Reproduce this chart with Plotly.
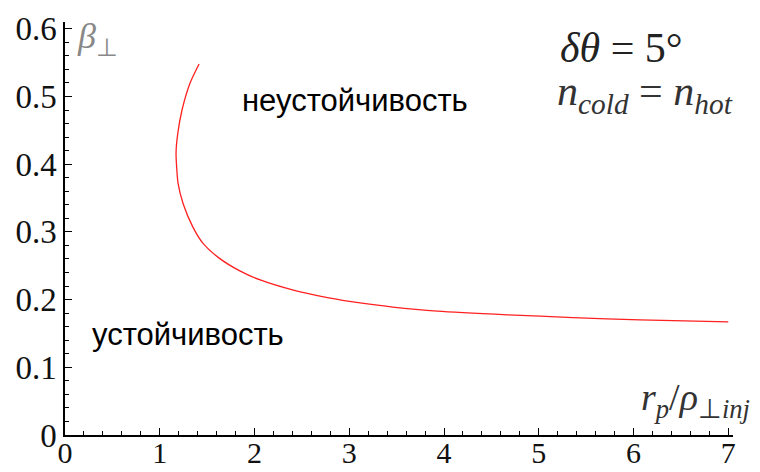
import plotly.graph_objects as go

# Curve data
r_ratio = [1.415, 1.32, 1.235, 1.19, 1.172, 1.193, 1.246, 1.35, 1.457, 1.62,
           1.85, 2.06, 2.41, 2.77, 3.115, 3.46, 3.93, 4.67, 5.36, 6.07, 7.0]
beta_perp = [0.548, 0.52, 0.48, 0.445, 0.416, 0.372, 0.342, 0.307, 0.283, 0.262,
             0.242, 0.229, 0.214, 0.203, 0.195, 0.189, 0.183, 0.1775, 0.1735, 0.170, 0.167]

x_ticks = [0, 1, 2, 3, 4, 5, 6, 7]
x_ticktext = ["0", "1", "2", "3", "4", "5", "6", "7"]
y_ticks = [0, 0.1, 0.2, 0.3, 0.4, 0.5, 0.6]
y_ticktext = ["0", "0.1", "0.2", "0.3", "0.4", "0.5", "0.6"]

fig = go.Figure()
fig.add_trace(go.Scatter(x=r_ratio, y=beta_perp, mode="lines",
                         line=dict(color="#ff2020", width=1.3, shape="spline", smoothing=0.6),
                         showlegend=False, hoverinfo="skip"))

common = dict(showline=True, linecolor="black", linewidth=1.5,
              ticks="inside", ticklen=7, tickwidth=1, tickcolor="black",
              showgrid=False, zeroline=False, automargin=False)
fig.update_xaxes(range=[0, 7.05], tickvals=x_ticks, ticktext=x_ticktext,
                 tickfont=dict(family="Liberation Serif", size=30, color="#111"),
                 ticklabelstandoff=-10,
                 minor=dict(dtick=0.2, ticks="inside", ticklen=4, tickcolor="black", tickwidth=1),
                 **common)
fig.update_yaxes(range=[0, 0.61], tickvals=y_ticks, ticktext=y_ticktext,
                 tickfont=dict(family="Liberation Serif", size=33, color="#111"),
                 minor=dict(dtick=0.02, ticks="inside", ticklen=4, tickcolor="black", tickwidth=1),
                 **common)

serif = "Liberation Serif"
anns = [
    dict(xref="x", yref="y", x=0.11, y=0.585, text="<i>β</i><sub>⊥</sub>",
         xanchor="left", yanchor="middle", font=dict(family=serif, size=36, color="#888")),
    dict(xref="paper", yref="paper", x=1.028, y=0.085,
         text="<i>r</i><sub><i>p</i></sub>/<i>ρ</i><sub>⊥<i>inj</i></sub>",
         xanchor="right", yanchor="middle", font=dict(family=serif, size=38, color="#333")),
    dict(xref="x", yref="y", x=5.2, y=0.572, text="<i>δθ</i> = 5°",
         xanchor="left", yanchor="middle", font=dict(family=serif, size=42, color="#222")),
    dict(xref="x", yref="y", x=5.17, y=0.503,
         text="<i>n</i><sub><i>cold</i></sub> = <i>n</i><sub><i>hot</i></sub>",
         xanchor="left", yanchor="middle", font=dict(family=serif, size=42, color="#333")),
    dict(xref="x", yref="y", x=3.06, y=0.494, text="неустойчивость",
         xanchor="center", yanchor="middle",
         font=dict(family="Liberation Sans", size=31, color="black")),
    dict(xref="x", yref="y", x=1.30, y=0.148, text="устойчивость",
         xanchor="center", yanchor="middle",
         font=dict(family="Liberation Sans", size=31, color="black")),
]
for a in anns:
    a.update(showarrow=False)
# page body has an 8px margin, so the figure is drawn 8px in from the top-left
fig.update_layout(annotations=anns, width=752, height=464,
                  margin=dict(l=57, r=27, t=14, b=37),
                  paper_bgcolor="white", plot_bgcolor="white")

fig.write_html("out.html")
